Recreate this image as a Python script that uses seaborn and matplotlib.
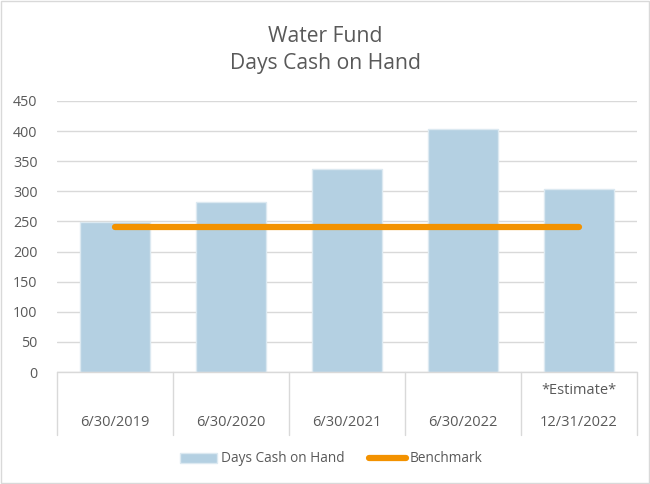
import matplotlib
matplotlib.use("Agg")
import matplotlib.pyplot as plt
import seaborn as sns
import pandas as pd
from matplotlib.patches import Patch
from matplotlib.lines import Line2D
import matplotlib.transforms as mtransforms

# data
periods = ["6/30/2019", "6/30/2020", "6/30/2021", "6/30/2022", "12/31/2022"]
notes = ["", "", "", "", "*Estimate*"]
days_cash = [249, 282, 337, 404, 304]
benchmark = [240, 240, 240, 240, 240]

BAR_COLOR = "#B4D0E2"
LINE_COLOR = "#F39200"
TEXT_COLOR = "#595959"
GRID_COLOR = "#D9D9D9"

sns.set_theme(style="white")
plt.rcParams['font.family'] = ['Open Sans', 'DejaVu Sans']

df = pd.DataFrame({"Period": periods, "Days": days_cash})

fig = plt.figure(figsize=(6.5, 4.84), dpi=100)
ax = fig.add_axes([57 / 650, 1 - 372 / 484, 580 / 650, 271 / 484])

sns.barplot(data=df, x="Period", y="Days", color=BAR_COLOR, width=0.6,
            edgecolor="#DCE9F1", linewidth=1, saturation=1, ax=ax, zorder=2)
ax.plot(range(len(periods)), benchmark, color=LINE_COLOR, linewidth=4.5,
        solid_capstyle="round", zorder=3)

ax.set_ylim(0, 450)
ax.set_xlim(-0.5, len(periods) - 0.5)
ax.set_yticks(range(0, 451, 50))
ax.tick_params(axis="y", labelsize=10.3, colors=TEXT_COLOR, length=0, pad=14)
ax.set_xticks([])
ax.set_xlabel("")
ax.set_ylabel("")
ax.yaxis.grid(True, color=GRID_COLOR, linewidth=1)
ax.set_axisbelow(True)
for s in ax.spines.values():
    s.set_visible(False)

# category table under the axis
trans = mtransforms.blended_transform_factory(ax.transData, ax.transAxes)
bottom = -(435 - 372) / 271
ax.plot([-0.5, len(periods) - 0.5], [0, 0], transform=trans, color=GRID_COLOR,
        linewidth=1, clip_on=False)
for i in range(len(periods) + 1):
    ax.plot([i - 0.5, i - 0.5], [0, bottom], transform=trans, color=GRID_COLOR,
            linewidth=1, clip_on=False)
for i, (p, n) in enumerate(zip(periods, notes)):
    ax.text(i, -(423 - 372) / 271, p, transform=trans, ha="center", va="center",
            fontsize=10.5, color=TEXT_COLOR)
    if n:
        ax.text(i, -(391 - 372) / 271, n, transform=trans, ha="center", va="center",
                fontsize=10.5, color=TEXT_COLOR)

fig.text(0.5, 1 - 37 / 484, "Water Fund", ha="center", va="center",
         fontsize=15.2, color=TEXT_COLOR)
fig.text(0.5, 1 - 64 / 484, "Days Cash on Hand", ha="center", va="center",
         fontsize=15.2, color=TEXT_COLOR)

handles = [Patch(facecolor=BAR_COLOR, edgecolor="#DCE9F1"),
           Line2D([0], [0], color=LINE_COLOR, linewidth=4.5, solid_capstyle="round")]
fig.legend(handles, ["Days Cash on Hand", "Benchmark"], loc="center",
           bbox_to_anchor=(0.51, 1 - 459 / 484), ncol=2, frameon=False,
           fontsize=9.8, labelcolor=TEXT_COLOR, handlelength=2.7,
           handletextpad=0.3, columnspacing=1.8)

fig.patches.append(plt.Rectangle((0.002, 0.002), 0.996, 0.996, transform=fig.transFigure,
                                 fill=False, edgecolor=GRID_COLOR, linewidth=1))

fig.savefig("out.png", dpi=100)
